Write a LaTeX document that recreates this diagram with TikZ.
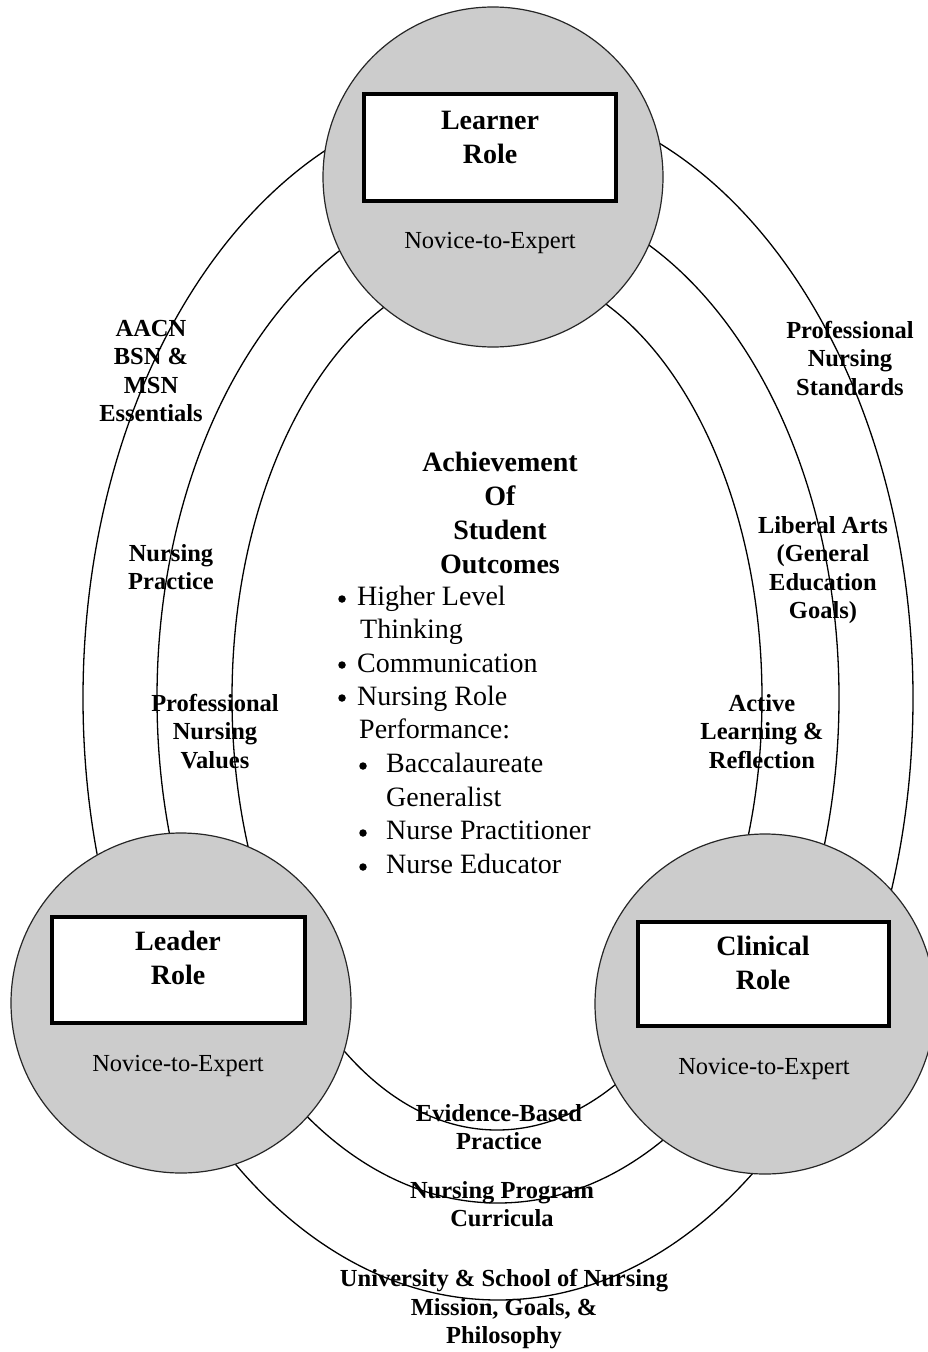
\documentclass[tikz,border=0pt]{standalone}
\usepackage{fontspec}
\setmainfont{Liberation Serif}
\definecolor{circgray}{RGB}{204,204,204}
\begin{document}
\begin{tikzpicture}[x=1pt,y=-1pt,
  ring/.style={draw=black,line width=1.3pt},
  rolecircle/.style={circle,draw=black!85,line width=1.2pt,fill=circgray,minimum size=340pt,inner sep=0pt},
  rolebox/.style={rectangle,draw=black,line width=4pt,fill=white,inner sep=0pt},
  roletext/.style={font=\fontsize{28}{34}\selectfont\bfseries,align=center,inner sep=0pt},
  novice/.style={font=\fontsize{24.5}{28}\selectfont,inner sep=0pt},
  lbl/.style={font=\fontsize{24.5}{28.5}\selectfont\bfseries,align=center,inner sep=0pt},
  item/.style={font=\fontsize{28}{33.5}\selectfont,anchor=base west,inner sep=0pt},
  dot/.style={circle,fill=black,inner sep=0pt,minimum size=7.5pt}
]
\fill[white] (0,0) rectangle (928,1352);
\useasboundingbox (0,0) rectangle (928,1352);

% rings
\draw[ring] (498,698) ellipse [x radius=415pt, y radius=602pt];
\draw[ring] (498,698) ellipse [x radius=341pt, y radius=505pt];
\draw[ring] (497,698) ellipse [x radius=265pt, y radius=432pt];

% role circles
\node[rolecircle] (learner) at (493,177) {};
\node[rolecircle] (leader) at (181,1003) {};
\node[rolecircle] (clinical) at (765,1004) {};

% role boxes
\node[rolebox,minimum width=252pt,minimum height=107pt] (learnerbox) at (490,147.5) {};
\node[rolebox,minimum width=253pt,minimum height=106pt] (leaderbox) at (178.5,970) {};
\node[rolebox,minimum width=251pt,minimum height=104pt] (clinicalbox) at (763.5,974) {};

\node[roletext] (learnertxt) at (490,137) {Learner\\Role};
\node[roletext] (leadertxt) at (178,958) {Leader\\Role};
\node[roletext] (clinicaltxt) at (763,963) {Clinical\\Role};

\node[novice] (nov1) at (490,243) {Novice-to-Expert};
\node[novice] (nov2) at (178,1066) {Novice-to-Expert};
\node[novice] (nov3) at (764,1069) {Novice-to-Expert};

% ring labels
\node[lbl] (aacn) at (151,371) {AACN\\BSN \&\\MSN\\Essentials};
\node[lbl] (npractice) at (171,567) {Nursing\\Practice};
\node[lbl] (pnvalues) at (215,731.5) {Professional\\Nursing\\Values};
\node[lbl] (pnstandards) at (850,358) {Professional\\Nursing\\Standards};
\node[lbl] (liberal) at (823,570) {Liberal Arts\\(General\\Education\\Goals)};
\node[lbl] (active) at (762,731.5) {Active\\Learning \&\\Reflection};
\node[lbl] (ebp) at (499,1127) {Evidence-Based\\Practice};
\node[lbl] (curricula) at (502,1204) {Nursing Program\\Curricula};
\node[lbl] (mission) at (504,1309.5) {University \& School of Nursing\\Mission, Goals, \&\\Philosophy};

% outcomes
\node[roletext] (achieve) at (500,512.5) {Achievement\\Of\\Student\\Outcomes};

\node[item] (i1) at (357,605) {Higher Level};
\node[item] (i1b) at (360,638) {Thinking};
\node[item] (i2) at (357,672) {Communication};
\node[item] (i3) at (357,705) {Nursing Role};
\node[item] (i3b) at (359,738) {Performance:};
\node[item] (i4) at (386,772) {Baccalaureate};
\node[item] (i4b) at (386,806) {Generalist};
\node[item] (i5) at (386,839) {Nurse Practitioner};
\node[item] (i6) at (386,873) {Nurse Educator};

\node[dot] (b1) at (342,599) {};
\node[dot] (b2) at (342,665) {};
\node[dot] (b3) at (342,698) {};
\node[dot] (b4) at (363,766) {};
\node[dot] (b5) at (363,833) {};
\node[dot] (b6) at (363,867) {};
\end{tikzpicture}
\end{document}
